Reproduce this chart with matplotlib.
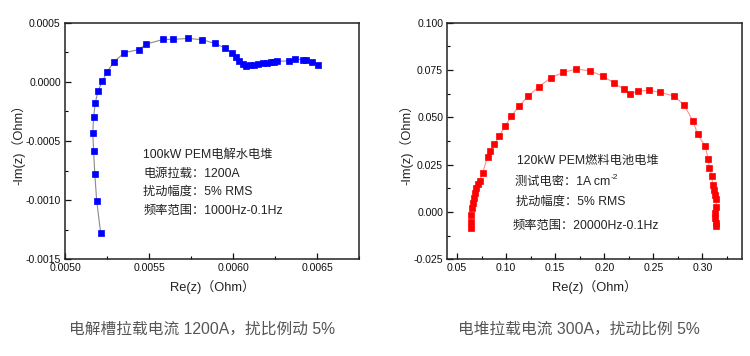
import matplotlib
matplotlib.use("Agg")
import matplotlib.pyplot as plt
from matplotlib.ticker import MultipleLocator, FormatStrFormatter

plt.rcParams['font.family'] = ['Liberation Sans', 'Noto Sans CJK SC', 'DejaVu Sans']

# Left: 100kW PEM electrolyser stack
re_ely = [0.005212, 0.005188, 0.005177, 0.005170, 0.005165, 0.005170, 0.005180, 0.005196,
          0.005222, 0.005251, 0.005291, 0.005353, 0.005438, 0.005483, 0.005584, 0.005645,
          0.005729, 0.005816, 0.005889, 0.005951, 0.005992, 0.006016, 0.006036, 0.006056,
          0.006074, 0.006100, 0.006125, 0.006149, 0.006175, 0.006199, 0.006225, 0.006243,
          0.006262, 0.006334, 0.006369, 0.006417, 0.006433, 0.006467, 0.006504]
im_ely = [-0.001277, -0.001003, -0.000776, -0.000588, -0.000433, -0.000295, -0.000180, -0.000076,
          0.000005, 0.000087, 0.000169, 0.000247, 0.000272, 0.000319, 0.000359, 0.000359,
          0.000367, 0.000357, 0.000325, 0.000287, 0.000245, 0.000207, 0.000174, 0.000148,
          0.000137, 0.000140, 0.000143, 0.000152, 0.000157, 0.000160, 0.000165, 0.000171,
          0.000174, 0.000177, 0.000196, 0.000185, 0.000185, 0.000169, 0.000143]

# Right: 120kW PEM fuel cell stack
re_fc = [0.0638, 0.0642, 0.0645, 0.0652, 0.0658, 0.0668, 0.0678, 0.0692, 0.0708, 0.0729,
         0.0759, 0.0810, 0.0834, 0.0881, 0.0931, 0.0989, 0.1053, 0.1131, 0.1222, 0.1330,
         0.1454, 0.1583, 0.1715, 0.1852, 0.1984, 0.2099, 0.2196, 0.2267, 0.2345, 0.2460,
         0.2568, 0.2710, 0.2814, 0.2902, 0.2952, 0.3030, 0.3057, 0.3071, 0.3097, 0.3104,
         0.3114, 0.3132, 0.3138, 0.3142, 0.3132, 0.3132, 0.3135, 0.3135]
im_fc = [-0.0083, -0.0051, -0.0016, 0.0020, 0.0046, 0.0072, 0.0099, 0.0125, 0.0146, 0.0164,
         0.0204, 0.0292, 0.0322, 0.0359, 0.0403, 0.0454, 0.0507, 0.0560, 0.0611, 0.0660,
         0.0709, 0.0738, 0.0755, 0.0746, 0.0718, 0.0681, 0.0650, 0.0625, 0.0639, 0.0643,
         0.0632, 0.0613, 0.0565, 0.0482, 0.0410, 0.0347, 0.0282, 0.0231, 0.0192, 0.0143,
         0.0116, 0.0090, 0.0069, 0.0028, -0.0007, -0.0033, -0.0060, -0.0072]

left_notes = ["100kW PEM电解水电堆", "电源拉载：1200A", "扰动幅度：5% RMS", "频率范围：1000Hz-0.1Hz"]
right_notes = ["120kW PEM燃料电池电堆", "测试电密：1A cm", "扰动幅度：5% RMS", "频率范围：20000Hz-0.1Hz"]
captions = ["电解槽拉载电流 1200A，扰比例动 5%", "电堆拉载电流 300A，扰动比例 5%"]
xlabel = "Re(z)（Ohm）"
ylabel = "-Im(z)（Ohm）"

fig = plt.figure(figsize=(7.5, 3.56), dpi=100)
fig.patch.set_facecolor('white')
axL = fig.add_axes([0.0867, 0.2716, 0.3924, 0.6646])
axR = fig.add_axes([0.5964, 0.2716, 0.3925, 0.6646])

def style(ax, ylab_x):
    for s in ax.spines.values():
        s.set_linewidth(1.1)
        s.set_color('#222222')
    ax.tick_params(which='major', direction='in', length=4, width=0.9, labelsize=7.6,
                   colors='#111111', top=False, right=False, pad=3)
    ax.tick_params(which='minor', direction='in', length=2.5, width=0.8, top=False, right=False)
    ax.set_xlabel(xlabel, fontsize=9.3, color='#222222', va='center')
    ax.set_ylabel(ylabel, fontsize=9.3, color='#222222', va='center')
    ax.xaxis.set_label_coords(0.5, -0.116)
    ax.yaxis.set_label_coords(ylab_x, 0.5)

axL.plot(re_ely, im_ely, color='#8a8a8a', lw=0.8, marker='s', ms=4.8,
         mfc='#0000ff', mec='#0000ff', mew=0.5, zorder=3)
axL.set_xlim(0.0050, 0.00675)
axL.set_ylim(-0.0015, 0.0005)
axL.xaxis.set_major_locator(MultipleLocator(0.0005))
axL.xaxis.set_minor_locator(MultipleLocator(0.00025))
axL.yaxis.set_major_locator(MultipleLocator(0.0005))
axL.yaxis.set_minor_locator(MultipleLocator(0.00025))
axL.xaxis.set_major_formatter(FormatStrFormatter('%.4f'))
axL.yaxis.set_major_formatter(FormatStrFormatter('%.4f'))
style(axL, -0.16)

axR.plot(re_fc, im_fc, color='#ff8f8f', lw=0.8, marker='s', ms=4.5,
         mfc='#ff0000', mec='#ff0000', mew=0.5, zorder=3)
axR.set_xlim(0.04, 0.34)
axR.set_ylim(-0.025, 0.100)
axR.xaxis.set_major_locator(MultipleLocator(0.05))
axR.xaxis.set_minor_locator(MultipleLocator(0.025))
axR.yaxis.set_major_locator(MultipleLocator(0.025))
axR.yaxis.set_minor_locator(MultipleLocator(0.0125))
axR.xaxis.set_major_formatter(FormatStrFormatter('%.2f'))
axR.yaxis.set_major_formatter(FormatStrFormatter('%.3f'))
style(axR, -0.138)

for txt, y in zip(left_notes, [0.441, 0.363, 0.286, 0.204]):
    axL.text(0.266, y, txt, transform=axL.transAxes, fontsize=8.8, color='#222222',
             va='center', ha='left')

rxs = [0.236, 0.230, 0.233, 0.222]
rys = [0.415, 0.325, 0.242, 0.141]
for i, (txt, x, y) in enumerate(zip(right_notes, rxs, rys)):
    t = axR.text(x, y, txt, transform=axR.transAxes, fontsize=8.8, color='#222222',
                 va='center', ha='left')
    if i == 1:
        axR.annotate("-2", xy=(1, 0.95), xycoords=t, fontsize=6, color='#222222',
                     va='center', ha='left')

fig.text(0.269, 0.076, captions[0], fontsize=11.3, color='#555555', ha='center', va='center')
fig.text(0.772, 0.076, captions[1], fontsize=11.3, color='#555555', ha='center', va='center')

fig.savefig('out.png', dpi=100, facecolor='white')
